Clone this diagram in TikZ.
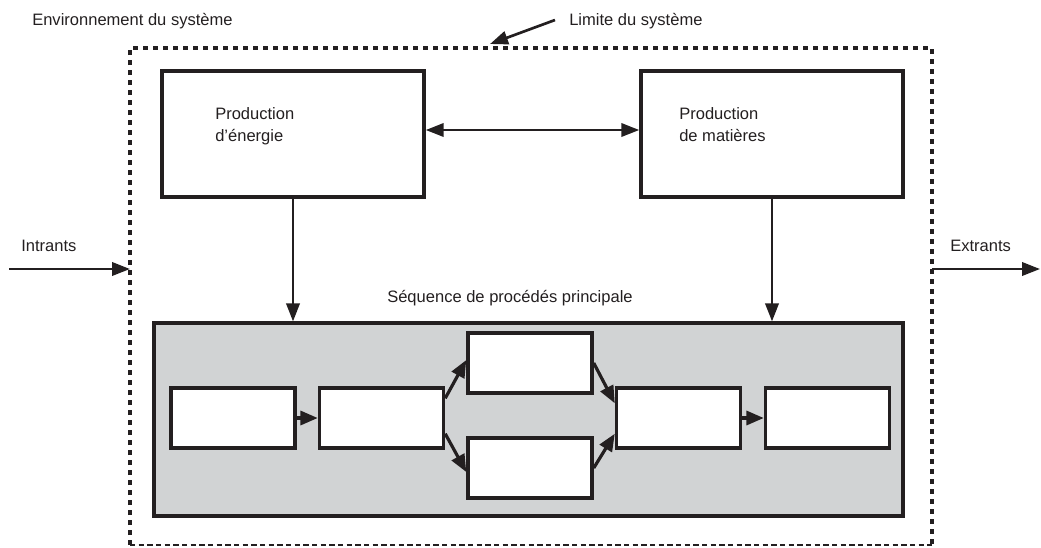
\documentclass[tikz,border=0pt]{standalone}
\usepackage{fontspec}
\setmainfont{Liberation Sans}
\usetikzlibrary{arrows.meta,calc}
\definecolor{ink}{HTML}{231F20}
\definecolor{seqgray}{HTML}{D1D3D4}
\begin{document}
\begin{tikzpicture}[x=0.75pt,y=-0.75pt,
  font=\fontsize{12.4}{16.5}\selectfont,
  every node/.style={text=ink},
  bigbox/.style={draw=ink,line width=2.6pt,fill=white,minimum width=262*0.75pt,minimum height=126*0.75pt,inner sep=0pt},
  smallbox/.style={draw=ink,line width=2.6pt,fill=white,minimum width=124*0.75pt,minimum height=60*0.75pt,inner sep=0pt},
  seqbox/.style={draw=ink,line width=2.4pt,fill=seqgray,minimum width=749*0.75pt,minimum height=193*0.75pt,inner sep=0pt},
  lbl/.style={anchor=base west,inner sep=0pt},
  boxlbl/.style={anchor=north west,inner sep=0pt,align=left},
  bigarrow/.style={draw=ink,line width=2pt,-{Triangle[length=13.5pt,width=10pt]}},
  dblarrow/.style={draw=ink,line width=2pt,{Triangle[length=13.5pt,width=10pt]}-{Triangle[length=13.5pt,width=10pt]}},
  smallarrow/.style={draw=ink,line width=2.4pt,-{Triangle[length=13pt,width=10.5pt]}},
  sysedge/.style={draw=ink,line width=2.4pt,dash pattern=on 4pt off 3.5pt},
  sysbottom/.style={draw=ink,line width=0.9pt,dash pattern=on 4pt off 2.5pt}
]
\useasboundingbox (0,0) rectangle (1041,547);

% system boundary
\node[minimum width=802*0.75pt,minimum height=497*0.75pt,outer sep=0pt,inner sep=0pt] (sys) at (531,296.5) {};
\draw[sysedge] (sys.south west) -- (sys.north west) -- (sys.north east) -- (sys.south east);
\draw[sysbottom] (sys.south west) -- (sys.south east);

% labels
\node[lbl] (env) at (32,25) {Environnement du système};
\node[lbl] (lim) at (569,25) {Limite du système};
\node[lbl] (intr) at (21,251) {Intrants};
\node[lbl] (extr) at (950,251) {Extrants};
\node[lbl] (seqlbl) at (387,302) {Séquence de procédés principale};

% big boxes
\node[bigbox] (energ) at (293,134) {};
\node[bigbox] (mat) at (772,134) {};
\node[boxlbl] (energlbl) at (215,107) {Production\\d’énergie};
\node[boxlbl] (matlbl) at (679,107) {Production\\de matières};

% sequence box
\node[seqbox] (seq) at (528.5,419.5) {};
\node[smallbox] (b1) at (233,418) {};
\node[smallbox] (b2) at (381.5,418) {};
\node[smallbox] (b3) at (530,363) {};
\node[smallbox] (b4) at (530,468) {};
\node[smallbox] (b5) at (678.5,418) {};
\node[smallbox] (b6) at (827.5,418) {};

% connectors
\draw[dblarrow] ([yshift=3pt]energ.east) -- ([yshift=3pt]mat.west);
\draw[bigarrow] (energ.south) -- (energ.south |- seq.north);
\draw[bigarrow] (mat.south) -- (mat.south |- seq.north);

\coordinate (inS) at (9,269);
\draw[bigarrow] (inS) -- (inS -| sys.west);
\coordinate (outE) at (1040,269);
\draw[bigarrow] (sys.east |- outE) -- (outE);

\coordinate (limS) at (555,20);
\coordinate (limT) at (490,44);
\draw[bigarrow] (limS) -- (limT);

\draw[smallarrow] (b1.east) -- (b2.west);
\draw[smallarrow] ($(b2.north east)+(0,12)$) -- ($(b3.west)+(0,-3)$);
\draw[smallarrow] ($(b2.south east)+(0,-16)$) -- ($(b4.west)+(0,4)$);
\draw[smallarrow] (b3.east) -- ($(b5.north west)+(0,17)$);
\draw[smallarrow] (b4.east) -- ($(b5.south west)+(0,-16)$);
\draw[smallarrow] (b5.east) -- (b6.west);
\end{tikzpicture}
\end{document}
